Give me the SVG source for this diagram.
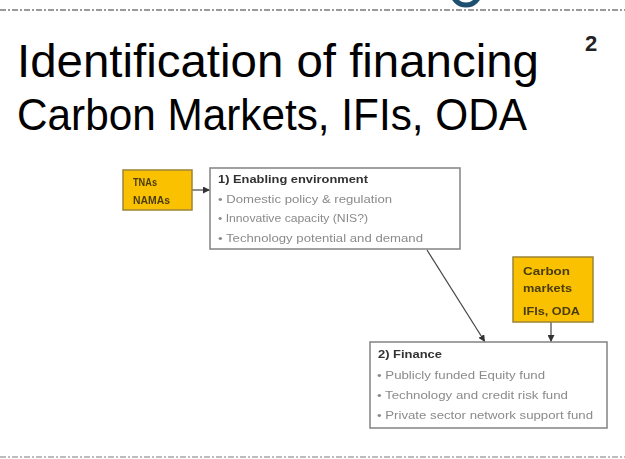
<svg xmlns="http://www.w3.org/2000/svg" width="625" height="459" viewBox="0 0 625 459">
  <defs>
    <marker id="arr" viewBox="0 0 8 8" refX="8" refY="4" markerWidth="7" markerHeight="7" markerUnits="userSpaceOnUse" orient="auto">
      <path d="M0,0 L8,4 L0,8 z" fill="#333"/>
    </marker>
    <filter id="soft" x="-5%" y="-5%" width="110%" height="110%">
      <feGaussianBlur stdDeviation="0.35"/>
    </filter>
  </defs>
  <style>
    .sep { stroke: #7a7a7a; stroke-width: 1.6; stroke-dasharray: 6 2 2 2; fill: none; }
    .title { font-family: "Liberation Sans", Arial, sans-serif; fill: #000; }
    .pnum { font-family: "Liberation Sans", Arial, sans-serif; font-weight: bold; fill: #222; }
    .ybox { fill: #f9c100; stroke: #9c8437; stroke-width: 1.5; }
    .wbox { fill: #fff; stroke: #8a8a8a; stroke-width: 1.6; }
    .ytxt { font-family: "Liberation Sans", Arial, sans-serif; font-weight: bold; font-size: 10px; fill: #4a3c10; }
    .head { font-family: "Liberation Sans", Arial, sans-serif; font-weight: bold; font-size: 10.5px; fill: #333; }
    .bul { font-family: "Liberation Sans", Arial, sans-serif; font-size: 10.5px; fill: #8a8a8a; }
    .conn { stroke: #444; stroke-width: 1.2; fill: none; marker-end: url(#arr); }
  </style>
  <rect x="0" y="0" width="625" height="459" fill="#fff"/>

  <!-- page decorations -->
  <circle cx="466" cy="-9" r="14" fill="none" stroke="#1d4f6e" stroke-width="5"/>
  <line class="sep" x1="0" y1="10" x2="625" y2="10"/>
  <line class="sep" x1="0" y1="457" x2="625" y2="457" style="stroke:#a8a8a8"/>

  <g id="title">
    <text class="title" x="17" y="77" font-size="47" textLength="522" lengthAdjust="spacingAndGlyphs">Identification of financing</text>
    <text class="title" x="17" y="130" font-size="44" textLength="510" lengthAdjust="spacingAndGlyphs">Carbon Markets, IFIs, ODA</text>
    <text class="pnum" x="585" y="51" font-size="22">2</text>
  </g>

  <g id="connectors">
    <path class="conn" d="M192,190 L210,190"/>
    <path class="conn" d="M427,250 L485,342"/>
    <path class="conn" d="M551,322 L551,342"/>
  </g>

  <g id="node-tnas" filter="url(#soft)">
    <rect class="ybox" x="123" y="170" width="69" height="40"/>
    <text class="ytxt" x="133" y="186" textLength="24" lengthAdjust="spacingAndGlyphs">TNAs</text>
    <text class="ytxt" x="133" y="204" textLength="37" lengthAdjust="spacingAndGlyphs">NAMAs</text>
  </g>

  <g id="node-enabling" filter="url(#soft)">
    <rect class="wbox" x="210" y="168" width="250" height="81"/>
    <text class="head" x="218" y="183" textLength="150" lengthAdjust="spacingAndGlyphs">1) Enabling environment</text>
    <text class="bul" x="218" y="203" textLength="174" lengthAdjust="spacingAndGlyphs">• Domestic policy &amp; regulation</text>
    <text class="bul" x="218" y="222" textLength="150" lengthAdjust="spacingAndGlyphs">• Innovative capacity (NIS?)</text>
    <text class="bul" x="218" y="242" textLength="205" lengthAdjust="spacingAndGlyphs">• Technology potential and demand</text>
  </g>

  <g id="node-carbon" filter="url(#soft)">
    <rect class="ybox" x="513" y="257" width="80" height="65"/>
    <text class="ytxt" x="523" y="275" textLength="47" lengthAdjust="spacingAndGlyphs">Carbon</text>
    <text class="ytxt" x="523" y="292" textLength="49" lengthAdjust="spacingAndGlyphs">markets</text>
    <text class="ytxt" x="523" y="315" textLength="57" lengthAdjust="spacingAndGlyphs">IFIs, ODA</text>
  </g>

  <g id="node-finance" filter="url(#soft)">
    <rect class="wbox" x="370" y="342" width="237" height="86"/>
    <text class="head" x="378" y="358" textLength="64" lengthAdjust="spacingAndGlyphs">2) Finance</text>
    <text class="bul" x="377" y="379" textLength="168" lengthAdjust="spacingAndGlyphs">• Publicly funded Equity fund</text>
    <text class="bul" x="377" y="399" textLength="191" lengthAdjust="spacingAndGlyphs">• Technology and credit risk fund</text>
    <text class="bul" x="377" y="419" textLength="216" lengthAdjust="spacingAndGlyphs">• Private sector network support fund</text>
  </g>
</svg>
